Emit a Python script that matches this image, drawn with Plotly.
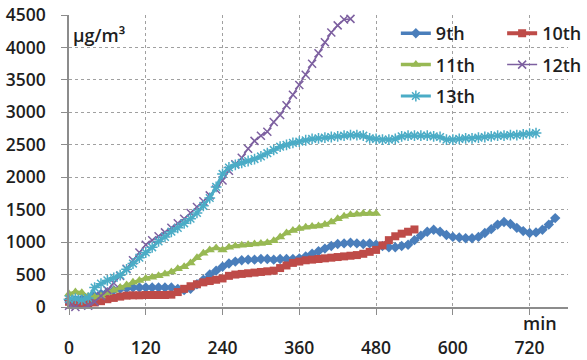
import plotly.graph_objects as go

# sampling times (min)
TIME = [0, 10, 20, 30, 40, 50, 60, 70, 80, 90, 100, 110, 120, 130, 140, 150, 160, 170, 180, 190,
        200, 210, 220, 230, 240, 250, 260, 270, 280, 290, 300, 310, 320, 330, 340, 350, 360, 370, 380, 390,
        400, 410, 420, 430, 440, 450, 460, 470, 480, 490, 500, 510, 520, 530, 540, 550, 560, 570, 580, 590,
        600, 610, 620, 630, 640, 650, 660, 670, 680, 690, 700, 710, 720, 730, 740, 750, 760]

s9th = [100, 110, 120, 140, 170, 200, 230, 260, 280, 290, 300, 300, 300, 300, 300, 300, 300, 280, 260, 280,
        350, 420, 500, 560, 620, 670, 700, 720, 730, 730, 740, 740, 730, 740, 740, 740, 750, 780, 820, 860,
        900, 940, 970, 980, 990, 980, 970, 980, 960, 940, 920, 920, 940, 960, 1030, 1100, 1160, 1190, 1160, 1110,
        1080, 1070, 1060, 1060, 1080, 1140, 1200, 1270, 1310, 1280, 1220, 1170, 1140, 1150, 1190, 1270, 1370]

s10th = [80, 60, 50, 60, 70, 90, 120, 140, 160, 175, 180, 180, 185, 185, 185, 185, 190, 230, 280, 320,
         350, 380, 400, 420, 440, 480, 500, 510, 520, 530, 540, 550, 560, 600, 640, 680, 700, 720, 730, 740,
         750, 760, 770, 780, 790, 800, 820, 850, 880, 950, 1030, 1090, 1130, 1160, 1195]

s11th = [200, 230, 220, 160, 150, 170, 220, 260, 300, 340, 380, 410, 440, 460, 480, 510, 540, 590, 620, 680,
         760, 830, 880, 910, 880, 920, 940, 950, 960, 970, 980, 990, 1020, 1080, 1140, 1180, 1210, 1230, 1240, 1250,
         1270, 1310, 1360, 1400, 1420, 1430, 1440, 1440, 1440]

s12th = [20, 0, -10, 20, 80, 170, 260, 370, 480, 590, 720, 840, 960, 1030, 1090, 1150, 1220, 1290, 1360, 1450,
         1540, 1630, 1720, 1810, 1950, 2100, 2200, 2300, 2440, 2560, 2640, 2700, 2850, 2960, 3110, 3270, 3420, 3580, 3750, 3910,
         4080, 4230, 4340, 4430, 4440]

s13th = [120, 130, 110, 140, 300, 360, 410, 450, 490, 580, 670, 760, 840, 920, 1010, 1080, 1160, 1220, 1290, 1360,
         1450, 1560, 1680, 1850, 2050, 2150, 2190, 2220, 2250, 2280, 2320, 2370, 2420, 2470, 2500, 2530, 2550, 2570, 2590, 2600,
         2610, 2620, 2630, 2640, 2650, 2650, 2640, 2600, 2590, 2580, 2580, 2590, 2630, 2640, 2640, 2640, 2640, 2630, 2620, 2580,
         2580, 2590, 2600, 2600, 2610, 2620, 2630, 2640, 2640, 2650, 2650, 2660, 2670, 2680]

X_TICKS = [0, 120, 240, 360, 480, 600, 720]
Y_TICKS = [0, 500, 1000, 1500, 2000, 2500, 3000, 3500, 4000, 4500]

FONT = "Open Sans"
TXT = "#1e1e1e"

series = [
    ("9th", s9th, "#4A7EBB", dict(symbol="diamond", size=8), 3.5, "legend"),
    ("10th", s10th, "#BE4B48", dict(symbol="square", size=8), 4, "legend2"),
    ("11th", s11th, "#98B954", dict(symbol="triangle-up", size=9), 3.5, "legend"),
    ("12th", s12th, "#7D60A0", dict(symbol="x-thin", size=8), 1.5, "legend2"),
    ("13th", s13th, "#4BACC6", dict(symbol="asterisk", size=9), 3, "legend"),
]

fig = go.Figure()
for name, vals, col, mk, lw, lg in series:
    m = dict(mk)
    m["color"] = col
    if m["symbol"] in ("x-thin", "asterisk"):
        m["line"] = dict(color=col, width=1.5)
    else:
        m["line"] = dict(width=0)
    fig.add_trace(go.Scatter(
        x=TIME[:len(vals)], y=vals, name=name, mode="lines+markers",
        line=dict(color=col, width=lw), marker=m, legend=lg, legendgroup=name,
        cliponaxis=False,
    ))

axis_common = dict(
    showgrid=True, gridcolor="#a0a0a0", griddash="dot", gridwidth=1,
    showline=True, linecolor="#8c8c8c", linewidth=1.5,
    ticks="outside", tickcolor="#8c8c8c", ticklen=6,
    zeroline=False, automargin=False,
    tickfont=dict(family=FONT, size=17.5, color=TXT, weight=600),
)

fig.update_xaxes(range=[0, 780], tickvals=X_TICKS, ticklabelstandoff=18, **axis_common)
fig.update_yaxes(range=[0, 4500], tickvals=Y_TICKS, ticklabelstandoff=12, **axis_common)

legend_common = dict(
    orientation="v", bgcolor="rgba(0,0,0,0)", borderwidth=0,
    font=dict(family=FONT, size=18, color=TXT, weight=600),
    tracegroupgap=5, yanchor="top", xanchor="left", y=1.0,
)

# figure is wider than the 587px window so the right-hand legend column
# fits without pushing the plot margins; the overflow is off-screen
fig.update_layout(
    width=680, height=360,
    margin=dict(l=69, r=112, t=15, b=53),
    paper_bgcolor="white", plot_bgcolor="white",
    showlegend=True,
    legend=dict(x=0.655, **legend_common),
    legend2=dict(x=0.868, **legend_common),
    annotations=[
        dict(text="μg/m³", xref="paper", yref="paper", x=0.004, y=0.93,
             xanchor="left", yanchor="middle", showarrow=False,
             font=dict(family=FONT, size=18, color=TXT, weight=600)),
        dict(text="min", xref="paper", yref="paper", x=0.944, y=-0.055,
             xanchor="center", yanchor="middle", showarrow=False,
             font=dict(family=FONT, size=18, color=TXT, weight=600)),
    ],
)

fig.write_html("out.html", config={"displayModeBar": False},
               post_script="document.body.style.margin='0px';")
